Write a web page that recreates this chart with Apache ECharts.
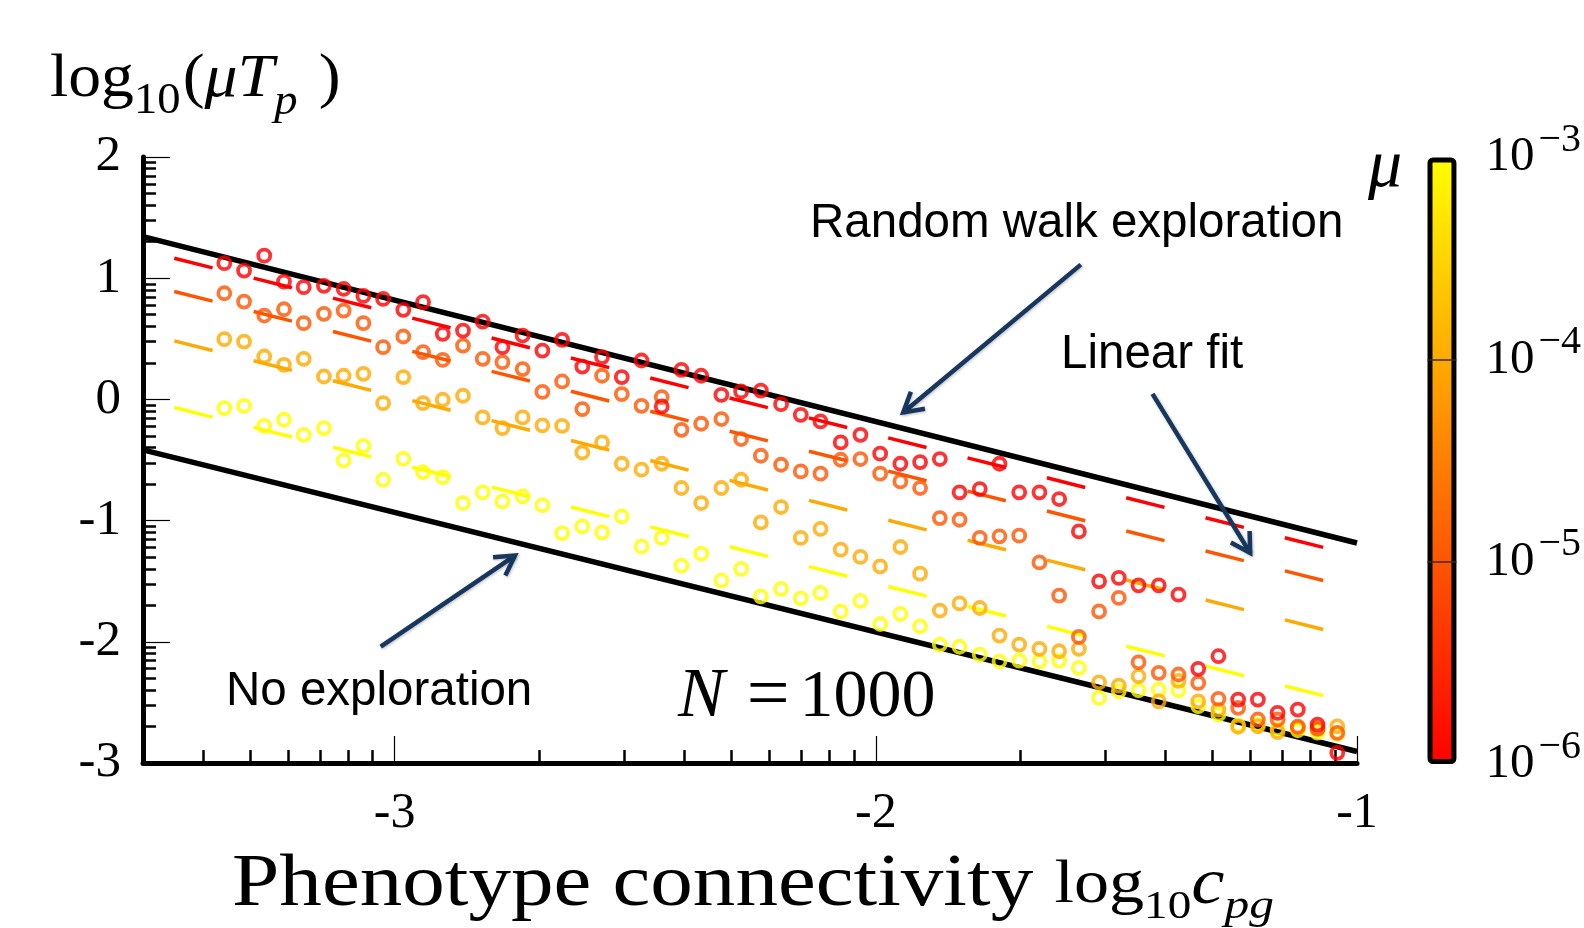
<!DOCTYPE html>
<html>
<head>
<meta charset="utf-8">
<title>Phenotype connectivity vs log10(mu Tp)</title>
<script src="https://cdn.jsdelivr.net/npm/echarts@6.0.0/dist/echarts.min.js"></script>
<style>
html,body{margin:0;padding:0;background:#ffffff;}
#chart{width:1584px;height:928px;}
</style>
</head>
<body>
<div id="chart"></div>
<script>
// ---------- data ----------
// x: log10 c_pg
const logC = [-3.354,-3.313,-3.271,-3.230,-3.189,-3.147,-3.106,-3.065,-3.024,-2.982,
  -2.941,-2.900,-2.858,-2.817,-2.776,-2.734,-2.693,-2.652,-2.610,-2.569,
  -2.528,-2.487,-2.445,-2.404,-2.363,-2.321,-2.280,-2.239,-2.197,-2.156,
  -2.115,-2.073,-2.032,-1.991,-1.949,-1.908,-1.867,-1.826,-1.784,-1.743,
  -1.702,-1.660,-1.619,-1.578,-1.536,-1.495,-1.454,-1.412,-1.371,-1.330,
  -1.288,-1.247,-1.206,-1.165,-1.123,-1.082,-1.041];
// y: log10(mu Tp) for each mutation rate mu
const tpMu1e6 = [1.124,1.063,1.186,0.972,0.926,0.937,0.912,0.854,0.829,0.739,
  0.802,0.541,0.568,0.642,0.431,0.527,0.403,0.491,0.271,0.349,
  0.184,0.321,-0.058,0.244,0.195,0.038,0.065,0.073,-0.039,-0.127,
  -0.182,-0.355,-0.292,-0.448,-0.531,-0.517,-0.492,-0.767,-0.740,-0.531,
  -0.767,-0.767,-0.822,-1.089,-1.501,-1.473,-1.534,-1.534,-1.611,-2.223,
  -2.119,-2.477,-2.477,-2.586,-2.559,-2.683,-2.916];
const tpMu1e5 = [0.876,0.807,0.692,0.744,0.629,0.706,0.733,0.629,0.431,0.519,
  0.390,0.326,0.444,0.335,0.307,0.250,0.062,0.148,-0.080,0.195,
  0.044,-0.053,0.019,-0.251,-0.201,-0.162,-0.327,-0.465,-0.539,-0.594,
  -0.613,-0.498,-0.492,-0.613,-0.677,-0.731,-0.979,-0.993,-1.143,-1.130,
  -1.124,-1.345,-1.619,-1.960,-1.749,-1.638,-2.169,-2.256,-2.270,-2.339,
  -2.471,-2.545,-2.641,-2.641,-2.700,-2.718,-2.751];
const tpMu1e4 = [0.497,0.477,0.354,0.285,0.335,0.189,0.195,0.211,-0.031,0.184,
  -0.031,-0.003,0.030,-0.149,-0.237,-0.149,-0.214,-0.218,-0.438,-0.355,
  -0.531,-0.580,-0.531,-0.731,-0.855,-0.731,-0.663,-1.015,-0.888,-1.143,
  -1.069,-1.240,-1.300,-1.378,-1.218,-1.438,-1.742,-1.683,-1.721,-1.949,
  -2.023,-2.058,-2.078,-2.058,-2.334,-2.361,-2.284,-2.491,-2.323,-2.491,
  -2.559,-2.701,-2.697,-2.746,-2.710,-2.710,-2.697];
const tpMu1e3 = [-0.072,-0.053,-0.218,-0.168,-0.292,-0.237,-0.504,-0.383,-0.663,-0.490,
  -0.600,-0.641,-0.855,-0.767,-0.842,-0.800,-0.873,-1.103,-1.048,-1.097,
  -0.965,-1.213,-1.143,-1.372,-1.273,-1.494,-1.399,-1.625,-1.564,-1.641,
  -1.597,-1.749,-1.663,-1.853,-1.770,-1.872,-2.023,-2.041,-2.105,-2.161,
  -2.155,-2.161,-2.155,-2.215,-2.463,-2.408,-2.400,-2.394,-2.400,-2.532,
  -2.600,-2.690,-2.685,-2.720,-2.730,-2.750,-2.760];
// linear fits (end points)
const fitLogC = [-3.458, -1.070];
const fitMu1e6 = [1.165, -1.221];
const fitMu1e5 = [0.890, -1.495];
const fitMu1e4 = [0.483, -1.899];
const fitMu1e3 = [-0.067, -2.444];
// bounding lines (end points)
const boundLogC = [-3.523, -1.0];
const randomWalkBound = [1.343, -1.185];
const noExplorationBound = [-0.416, -2.905];
// axes
const xRange = [-3.523, -1];
const yRange = [-3, 2];
const xMajorTicks = [-3, -2, -1];
const yMajorTicks = [-3, -2, -1, 0, 1, 2];
const minorMultipliers = [2, 3, 4, 5, 6, 7, 8, 9];
const colorbarExponents = [-6, -5, -4, -3];
const muColors = ['#ff0000', '#ff5500', '#ffaa00', '#ffff00'];
// annotation arrows [tail, head] in data coordinates
const arrowRandomWalk = [[-1.574, 1.112], [-1.943, -0.108]];
const arrowLinearFit = [[-1.425, 0.046], [-1.222, -1.267]];
const arrowNoExploration = [[-3.029, -2.040], [-2.750, -1.289]];

// ---------- helpers ----------
const SERIF = '"Liberation Serif","DejaVu Serif",serif';
const SANS = '"Liberation Sans",Arial,sans-serif';
const NAVY = '#17375e';

function minorTicks(range) {
  const out = [];
  for (let d = Math.floor(range[0]); d < Math.ceil(range[1]); d++) {
    for (const m of minorMultipliers) {
      const v = d + Math.log10(m);
      if (v > range[0] + 0.01 && v < range[1] - 0.01) out.push(+v.toFixed(4));
    }
  }
  return out;
}
function pairs(xsArr, ysArr) { return xsArr.map((x, i) => [x, ysArr[i]]); }

const chart = echarts.init(document.getElementById('chart'), null, {renderer: 'canvas'});

const scatterSets = [
  {name: 'mu=1e-3', ys: tpMu1e3, c: muColors[3]},
  {name: 'mu=1e-4', ys: tpMu1e4, c: muColors[2]},
  {name: 'mu=1e-5', ys: tpMu1e5, c: muColors[1]},
  {name: 'mu=1e-6', ys: tpMu1e6, c: muColors[0]}
];
const fitSets = [
  {ys: fitMu1e3, c: muColors[3]},
  {ys: fitMu1e4, c: muColors[2]},
  {ys: fitMu1e5, c: muColors[1]},
  {ys: fitMu1e6, c: muColors[0]}
];

const series = [];
fitSets.forEach(f => series.push({
  type: 'line', xAxisIndex: 0, yAxisIndex: 0, data: pairs(fitLogC, f.ys),
  symbol: 'none', silent: true, z: 2,
  lineStyle: {color: f.c, width: 3.5, type: [39.5, 42.3], cap: 'butt'}
}));
series.push({
  type: 'line', xAxisIndex: 0, yAxisIndex: 0, data: pairs(boundLogC, randomWalkBound),
  symbol: 'none', silent: true, z: 3, lineStyle: {color: '#000', width: 5.5}
});
series.push({
  type: 'line', xAxisIndex: 0, yAxisIndex: 0, data: pairs(boundLogC, noExplorationBound),
  symbol: 'none', silent: true, z: 3, lineStyle: {color: '#000', width: 5.5}
});
scatterSets.forEach(s => series.push({
  type: 'scatter', name: s.name, xAxisIndex: 0, yAxisIndex: 0, data: pairs(logC, s.ys),
  symbol: 'circle', symbolSize: 12, z: 4, silent: true,
  itemStyle: {color: 'rgba(255,255,255,0)', borderColor: s.c, borderWidth: 3.8}
}));
// colour bar
series.push({
  type: 'bar', xAxisIndex: 2, yAxisIndex: 2, data: [3], barWidth: '100%', silent: true, z: 2,
  itemStyle: {
    color: new echarts.graphic.LinearGradient(0, 0, 0, 1, [
      {offset: 0, color: muColors[3]}, {offset: 1 / 3, color: muColors[2]},
      {offset: 2 / 3, color: muColors[1]}, {offset: 1, color: muColors[0]}]),
    borderColor: '#000', borderWidth: 5, borderRadius: 3
  },
  markLine: {
    silent: true, symbol: 'none', label: {show: false}, animation: false,
    lineStyle: {color: '#3b2a10', width: 1.5, type: 'solid'},
    data: [{yAxis: 1}, {yAxis: 2}]
  }
});

const option = {
  animation: false,
  backgroundColor: '#ffffff',
  grid: [
    {left: 143, right: 227, top: 157, bottom: 165, containLabel: false},
    {left: 1427.5, width: 30, top: 157.5, bottom: 164, containLabel: false}
  ],
  xAxis: [
    {
      type: 'value', gridIndex: 0, position: 'bottom', min: xRange[0], max: xRange[1],
      axisLine: {onZero: false, lineStyle: {color: '#000', width: 5}},
      axisTick: {inside: true, length: 27, customValues: xMajorTicks, lineStyle: {color: '#000', width: 1.2}},
      axisLabel: {customValues: xMajorTicks, margin: 26, color: '#000', fontFamily: SERIF, fontSize: 50},
      splitLine: {show: false}
    },
    {
      type: 'value', gridIndex: 0, position: 'bottom', min: xRange[0], max: xRange[1],
      axisLine: {show: false, onZero: false},
      axisTick: {inside: true, length: 13, customValues: minorTicks(xRange), lineStyle: {color: '#000', width: 2.5}},
      axisLabel: {show: false}, splitLine: {show: false}
    },
    {
      type: 'category', gridIndex: 1, data: ['mu'], show: false
    }
  ],
  yAxis: [
    {
      type: 'value', gridIndex: 0, position: 'left', min: yRange[0], max: yRange[1],
      axisLine: {onZero: false, lineStyle: {color: '#000', width: 5}},
      axisTick: {inside: true, length: 27, customValues: yMajorTicks, lineStyle: {color: '#000', width: 1.2}},
      axisLabel: {customValues: yMajorTicks, margin: 22, color: '#000', fontFamily: SERIF, fontSize: 51},
      splitLine: {show: false}
    },
    {
      type: 'value', gridIndex: 0, position: 'left', min: yRange[0], max: yRange[1],
      axisLine: {show: false, onZero: false},
      axisTick: {inside: true, length: 13, customValues: minorTicks(yRange), lineStyle: {color: '#000', width: 2.5}},
      axisLabel: {show: false}, splitLine: {show: false}
    },
    {
      type: 'value', gridIndex: 1, position: 'right', min: 0, max: 3,
      axisLine: {show: false}, axisTick: {show: false}, splitLine: {show: false},
      axisLabel: {
        customValues: [0, 1, 2, 3], margin: 29, color: '#000',
        formatter: v => '{b|10}{s|' + String(colorbarExponents[Math.round(v)]).replace('-', '\u2212') + '}',
        rich: {
          b: {fontFamily: SERIF, fontSize: 49, color: '#000', verticalAlign: 'middle'},
          s: {fontFamily: SERIF, fontSize: 40, color: '#000', verticalAlign: 'middle', padding: [0, 0, 34, 4]}
        }
      }
    }
  ],
  series: series
};
chart.setOption(option);

// ---------- annotations ----------
function arrow(seg) {
  const p = chart.convertToPixel({xAxisIndex: 0, yAxisIndex: 0}, seg[0]);
  const q = chart.convertToPixel({xAxisIndex: 0, yAxisIndex: 0}, seg[1]);
  const ang = Math.atan2(q[1] - p[1], q[0] - p[0]);
  const L = 22, w = Math.PI / 6;
  const b1 = [q[0] - L * Math.cos(ang - w), q[1] - L * Math.sin(ang - w)];
  const b2 = [q[0] - L * Math.cos(ang + w), q[1] - L * Math.sin(ang + w)];
  const st = {stroke: NAVY, lineWidth: 4.5, fill: null, lineCap: 'butt', lineJoin: 'miter',
    shadowBlur: 3, shadowColor: 'rgba(0,0,0,0.25)', shadowOffsetX: 1, shadowOffsetY: 1};
  return [
    {type: 'polyline', silent: true, z: 10, shape: {points: [p, q]}, style: st},
    {type: 'polyline', silent: true, z: 10, shape: {points: [b1, q, b2]}, style: st}
  ];
}

const sansText = (txt, x, y) => ({
  type: 'text', silent: true, z: 10, x: x, y: y,
  style: {text: txt, fill: '#000', font: '47.5px ' + SANS, textAlign: 'left', textVerticalAlign: 'middle'}
});

const graphics = [].concat(
  arrow(arrowRandomWalk), arrow(arrowLinearFit), arrow(arrowNoExploration),
  [
    sansText('Random walk exploration', 810, 223.5),
    sansText('Linear fit', 1061, 354.5),
    sansText('No exploration', 226, 692),
    {
      type: 'text', silent: true, z: 10, x: 678, y: 698,
      style: {
        text: '{n|N}{e|=}{d|1000}', textAlign: 'left', textVerticalAlign: 'middle',
        rich: {
          n: {fontFamily: SERIF, fontStyle: 'italic', fontSize: 70, fill: '#000', padding: [0, 22, 0, 0]},
          e: {fontFamily: SERIF, fontSize: 76, fill: '#000', padding: [0, 10, 0, 0]},
          d: {fontFamily: SERIF, fontSize: 68, fill: '#000'}
        }
      }
    },
    {
      type: 'text', silent: true, z: 10, x: 50, y: 80, scaleX: 1.06,
      style: {
        text: '{a|log}{s|10}{a|(}{i|\u03bcT}{p|p}{a|)}', textAlign: 'left', textVerticalAlign: 'middle',
        rich: {
          a: {fontFamily: SERIF, fontSize: 62, fill: '#000'},
          s: {fontFamily: SERIF, fontSize: 44, fill: '#000', padding: [42, 2, 0, 0]},
          i: {fontFamily: SERIF, fontStyle: 'italic', fontSize: 62, fill: '#000'},
          p: {fontFamily: SERIF, fontStyle: 'italic', fontSize: 44, fill: '#000', padding: [44, 20, 0, 0]}
        }
      }
    },
    {
      type: 'text', silent: true, z: 10, x: 232, y: 886, scaleX: 1.15,
      style: {
        text: '{a|Phenotype connectivity }{l|log}{s|10}{i|c}{p|pg}', textAlign: 'left', textVerticalAlign: 'middle',
        rich: {
          a: {fontFamily: SERIF, fontSize: 74, fill: '#000'},
          l: {fontFamily: SERIF, fontSize: 61, fill: '#000'},
          s: {fontFamily: SERIF, fontSize: 41, fill: '#000', padding: [42, 0, 0, 0]},
          i: {fontFamily: SERIF, fontStyle: 'italic', fontSize: 65, fill: '#000'},
          p: {fontFamily: SERIF, fontStyle: 'italic', fontSize: 43, fill: '#000', padding: [42, 0, 0, 0]}
        }
      }
    },
    {
      type: 'text', silent: true, z: 10, x: 1368, y: 168,
      style: {text: '\u03bc', fill: '#000', font: 'italic 68px ' + SERIF, textAlign: 'left', textVerticalAlign: 'middle'}
    }
  ]
);
chart.setOption({graphic: graphics});
</script>
</body>
</html>
